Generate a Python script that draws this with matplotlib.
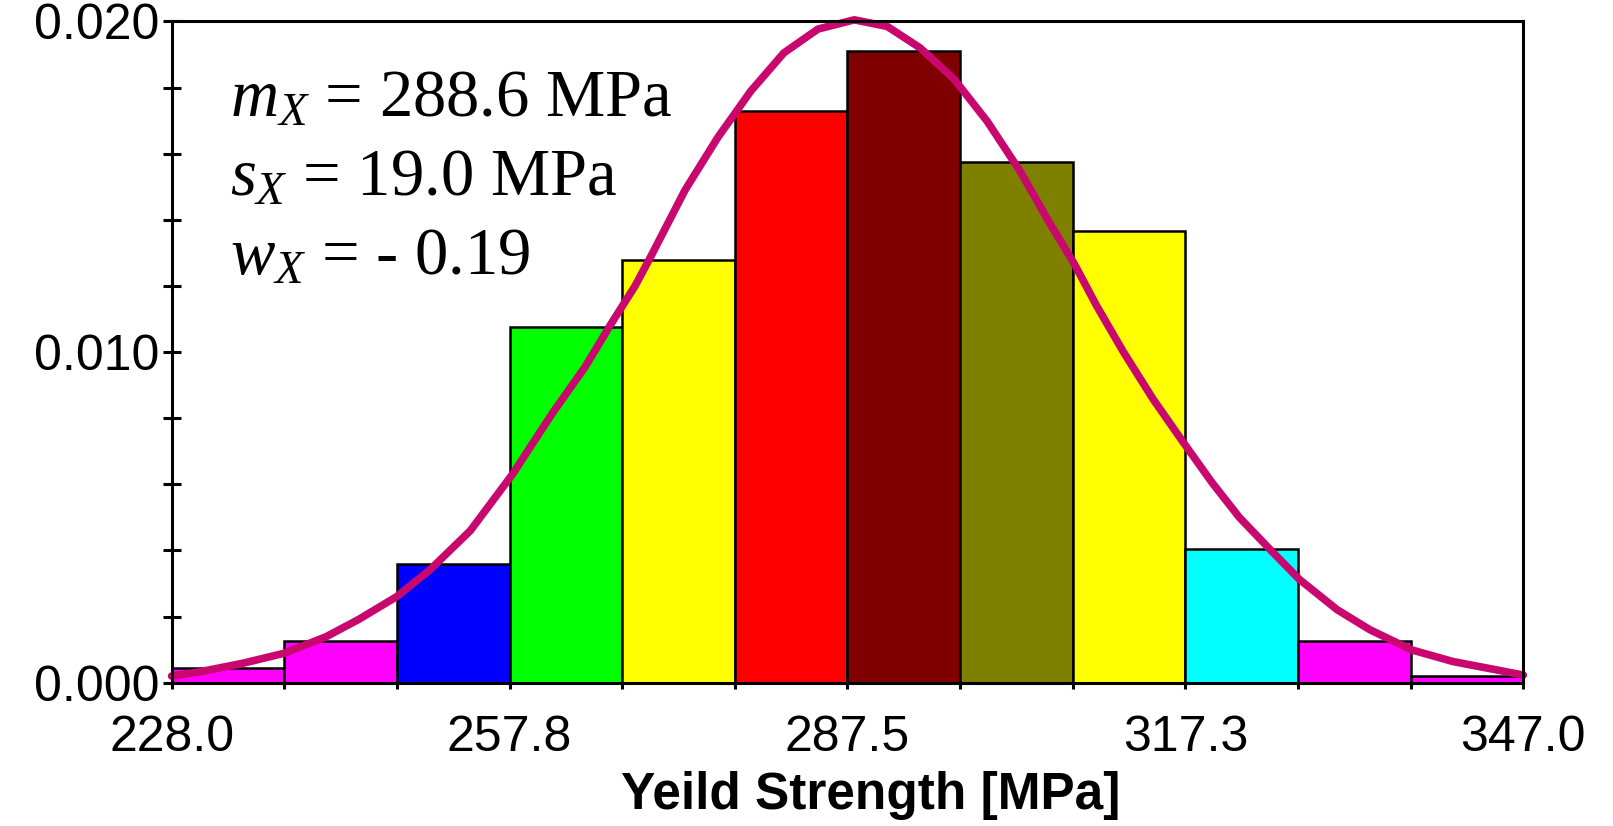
""" Histogram of yield strength with fitted density curve
Usage:
python plot.py
"""

import numpy as np
import matplotlib.pyplot as plt

# histogram data (density per MPa)
x_min = 228.0
x_max = 347.0
bar_heights = [0.00044, 0.00126, 0.00359, 0.01077, 0.01280, 0.01730,
               0.01911, 0.01574, 0.01367, 0.00405, 0.00127, 0.00020]
bar_colors = ['#FF00FF', '#FF00FF', '#0000FF', '#00FF00', '#FFFF00', '#FF0000',
              '#800000', '#808000', '#FFFF00', '#00FFFF', '#FF00FF', '#FF00FF']

# fitted pdf
curve_x = [228.0, 230.5, 234.3, 237.9, 241.6, 244.5, 247.8, 250.7, 254.3, 258.0,
           261.5, 264.4, 266.7, 268.8, 270.2, 273.2, 276.1, 279.0, 281.9, 284.9,
           288.1, 291.0, 293.9, 296.9, 299.8, 302.7, 305.3, 307.5, 309.4, 311.8,
           314.4, 317.0, 319.6, 322.0, 324.7, 327.3, 330.6, 333.5, 337.2, 340.8,
           344.6, 347.0]
curve_y = [0.00020, 0.00033, 0.00059, 0.00089, 0.00139, 0.00192, 0.00260, 0.00340, 0.00460, 0.00630,
           0.00814, 0.00955, 0.01086, 0.01200, 0.01290, 0.01490, 0.01650, 0.01790, 0.01905, 0.01977,
           0.02005, 0.01985, 0.01920, 0.01825, 0.01698, 0.01547, 0.01390, 0.01265, 0.01142, 0.01000,
           0.00858, 0.00730, 0.00605, 0.00500, 0.00403, 0.00312, 0.00221, 0.00160, 0.00099, 0.00064,
           0.00039, 0.00023]

x_tick_labels = ['228.0', '257.8', '287.5', '317.3', '347.0']
y_ticks = [0.000, 0.010, 0.020]
y_tick_labels = ['0.000', '0.010', '0.020']
stats_lines = [r'$m_X$ = 288.6 MPa', r'$s_X$ = 19.0 MPa', r'$w_X$ = - 0.19']


def plot_histogram():
    plt.rcParams['mathtext.fontset'] = 'custom'
    plt.rcParams['mathtext.rm'] = 'Liberation Serif'
    plt.rcParams['mathtext.it'] = 'Liberation Serif:italic'

    fig = plt.figure(figsize=(16.13, 8.26), dpi=100)
    ax = fig.add_axes([0.1064, 0.1735, 0.8380, 0.8005])

    edges = np.linspace(x_min, x_max, len(bar_heights) + 1)
    width = edges[1] - edges[0]
    ax.bar(edges[:-1], bar_heights, width=width, align='edge', color=bar_colors,
           edgecolor='black', linewidth=1.8, zorder=2)

    ax.plot(curve_x, curve_y, color='#C8086E', linewidth=5.5,
            solid_capstyle='round', solid_joinstyle='round', zorder=3, clip_on=False)

    ax.set_xlim(x_min, x_max)
    ax.set_ylim(0, 0.020)

    # x ticks on every bin edge, labels on every third
    ax.set_xticks(edges[::3])
    ax.set_xticklabels(x_tick_labels, fontsize=36, fontfamily='Liberation Sans')
    ax.set_xticks([e for i, e in enumerate(edges) if i % 3 != 0], minor=True)
    ax.set_yticks(y_ticks)
    ax.set_yticklabels(y_tick_labels, fontsize=36, fontfamily='Liberation Sans')
    ax.set_yticks(np.arange(0, 0.0201, 0.002), minor=True)

    ax.tick_params(axis='y', which='both', direction='inout', length=13, width=2.2,
                   pad=2, right=False)
    ax.tick_params(axis='x', which='both', direction='inout', length=8, width=2.2,
                   pad=19, top=False)
    for s in ax.spines.values():
        s.set_linewidth(2.2)
        s.set_zorder(4)

    ax.set_xlabel('Yeild Strength [MPa]', fontsize=37, fontweight='bold',
                  fontfamily='Liberation Sans')
    ax.xaxis.set_label_coords(0.517, -0.133)

    for i, line in enumerate(stats_lines):
        ax.text(0.043, 0.8556 - i * 0.1195, line, transform=ax.transAxes,
                fontsize=48, fontfamily='Liberation Serif', va='baseline', ha='left')

    plt.savefig('out.png', dpi=100)
    plt.close()


if __name__ == "__main__":
    plot_histogram()
